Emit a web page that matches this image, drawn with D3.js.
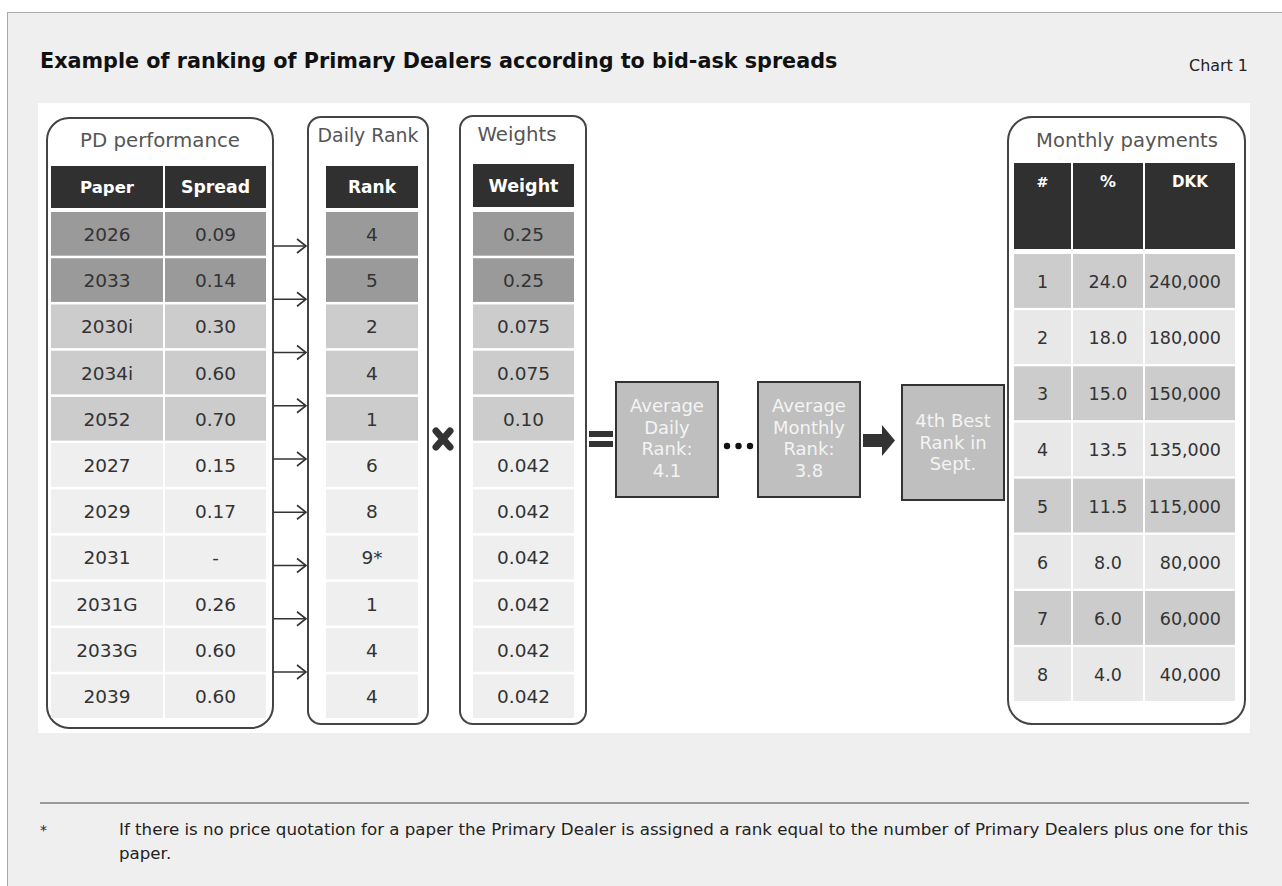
<!DOCTYPE html>
<html><head><meta charset="utf-8">
<script src="https://cdn.jsdelivr.net/npm/d3@7"></script>
<style>
html,body{margin:0;padding:0;background:#fff;}
svg{display:block;font-family:"DejaVu Sans","Noto Sans",sans-serif;}
</style></head>
<body><div id="chart"></div>
<script>
// ---- data ----
const papers = ["2026","2033","2030i","2034i","2052","2027","2029","2031","2031G","2033G","2039"];
const spreads = ["0.09","0.14","0.30","0.60","0.70","0.15","0.17","-","0.26","0.60","0.60"];
const dailyRanks = ["4","5","2","4","1","6","8","9*","1","4","4"];
const weights = ["0.25","0.25","0.075","0.075","0.10","0.042","0.042","0.042","0.042","0.042","0.042"];
const paperTier = [0,0,1,1,1,2,2,2,2,2,2];
const payRank = ["1","2","3","4","5","6","7","8"];
const payPct = ["24.0","18.0","15.0","13.5","11.5","8.0","6.0","4.0"];
const payDKK = ["240,000","180,000","150,000","135,000","115,000","80,000","60,000","40,000"];
const avgDailyRank = "4.1";
const avgMonthlyRank = "3.8";
const bestRankLabel = "4th Best";
const monthLabel = "Sept.";
const arrowCount = 9;

const W = 1282, H = 886;
const svg = d3.select("#chart").append("svg").attr("width", W).attr("height", H);

function fit(sel, w){
  const l = sel.node().getComputedTextLength();
  if (l > 0) sel.attr("font-size", (+sel.attr("font-size")) * w / l);
  return sel;
}

// frame
svg.append("rect").attr("x",7).attr("y",12).attr("width",W-7).attr("height",H-12).attr("fill","#efefef");
svg.append("line").attr("x1",7).attr("x2",W).attr("y1",12.5).attr("y2",12.5).attr("stroke","#aaa").attr("stroke-width",1);
svg.append("line").attr("x1",7.5).attr("x2",7.5).attr("y1",12).attr("y2",H).attr("stroke","#aaa").attr("stroke-width",1);

fit(svg.append("text").attr("x",40).attr("y",68).attr("font-size",20).attr("font-weight","bold").attr("fill","#111")
  .text("Example of ranking of Primary Dealers according to bid-ask spreads"), 798);
fit(svg.append("text").attr("x",1248).attr("y",71).attr("text-anchor","end").attr("font-size",14).attr("fill","#222").text("Chart 1"), 59);

// white panel
svg.append("rect").attr("x",38).attr("y",103).attr("width",1212).attr("height",630).attr("fill","#fff");

// footnote
svg.append("line").attr("x1",40).attr("x2",1249).attr("y1",803).attr("y2",803).attr("stroke","#999").attr("stroke-width",2);
svg.append("text").attr("x",40).attr("y",835).attr("font-size",14).attr("fill","#222").text("*");
const fn1 = fit(svg.append("text").attr("x",119).attr("y",835).attr("font-size",14).attr("fill","#222")
  .text("If there is no price quotation for a paper the Primary Dealer is assigned a rank equal to the number of Primary Dealers plus one for this"), 1130);
svg.append("text").attr("x",119).attr("y",859).attr("font-size",fn1.attr("font-size")).attr("fill","#222").text("paper.");

const tierColor = d3.scaleOrdinal().domain([0,1,2]).range(["#9a9a9a","#cccccc","#efefef"]);

// container boxes
function box(x,y,w,h,r){
  svg.append("rect").attr("x",x).attr("y",y).attr("width",w).attr("height",h).attr("rx",r).attr("ry",r)
    .attr("fill","#fff").attr("stroke","#444").attr("stroke-width",2);
}
box(47,118,226,610,22);
box(308,117,120,607,13);
box(460,116,126,608,13);
box(1008,117,237,607,24);

function title(x,y,t,fs,w){
  fit(svg.append("text").attr("x",x).attr("y",y).attr("text-anchor","middle").attr("font-size",fs).attr("fill","#555").text(t), w);
}
title(160,147,"PD performance",18,160);
title(368,142,"Daily Rank",17,101);
title(517,141,"Weights",17,79);
title(1127,147,"Monthly payments",18,182);

// left tables
const yRow = d3.scaleBand().domain(d3.range(papers.length)).range([212,718]).paddingInner(0.055);

function header(x,w,y,h,label,fs,tw,valign){
  svg.append("rect").attr("x",x).attr("y",y).attr("width",w).attr("height",h).attr("fill","#303030");
  fit(svg.append("text").attr("x",x+w/2).attr("y", valign==="top" ? y+24 : y+h/2+6)
    .attr("text-anchor","middle").attr("font-size",fs).attr("font-weight","bold").attr("fill","#fff").text(label), tw);
}
header(51,112,166,42,"Paper",17,54);
header(165,101,166,42,"Spread",17,69);
header(326,92,166,42,"Rank",17,48);
header(473,101,164,43,"Weight",17,70);

const cellFs = 18.5;
function column(x,w,values,colors){
  const g = svg.append("g");
  g.selectAll("rect").data(values).join("rect")
    .attr("x",x).attr("y",(d,i)=>yRow(i)).attr("width",w).attr("height",yRow.bandwidth())
    .attr("fill",(d,i)=>tierColor(colors[i]));
  g.selectAll("text").data(values).join("text")
    .attr("x",x+w/2).attr("y",(d,i)=>yRow(i)+yRow.bandwidth()/2+7)
    .attr("text-anchor","middle").attr("font-size",cellFs).attr("fill","#333").text(d=>d);
}
column(51,112,papers,paperTier);
column(165,101,spreads,paperTier);
column(326,92,dailyRanks,paperTier);
column(473,101,weights,paperTier);

// arrows between tables
const yArrow = d3.scaleLinear().domain([0,arrowCount-1]).range([246,672]);
const ag = svg.append("g").attr("stroke","#333").attr("stroke-width",1.6).attr("fill","none");
d3.range(arrowCount).forEach(i=>{
  const y = yArrow(i);
  ag.append("line").attr("x1",273).attr("x2",306).attr("y1",y).attr("y2",y);
  ag.append("path").attr("d",`M${297},${y-7}L${306},${y}L${297},${y+7}`);
});

// multiply sign
svg.append("path").attr("d","M436,431L450,447M450,431L436,447").attr("stroke","#333").attr("stroke-width",7).attr("stroke-linecap","round");

// equals sign
svg.append("rect").attr("x",589).attr("y",431).attr("width",24).attr("height",6).attr("fill","#333");
svg.append("rect").attr("x",589).attr("y",441).attr("width",24).attr("height",6).attr("fill","#333");

// process boxes
function pbox(x,y,lines,baseY){
  svg.append("rect").attr("x",x).attr("y",y).attr("width",102).attr("height",115).attr("fill","#bfbfbf").attr("stroke","#333").attr("stroke-width",2);
  const t = svg.append("text").attr("text-anchor","middle").attr("font-size",18).attr("fill","#f4f4f4");
  lines.forEach((l,i)=>t.append("tspan").attr("x",x+51).attr("y",baseY+i*21.5).text(l));
}
pbox(616,382,["Average","Daily","Rank:",avgDailyRank],412);
pbox(758,382,["Average","Monthly","Rank:",avgMonthlyRank],412);
pbox(902,385,[bestRankLabel,"Rank in",monthLabel],427);

// dots
svg.selectAll("circle.dot").data([727,738.5,750]).join("circle").attr("class","dot")
  .attr("cx",d=>d).attr("cy",446).attr("r",3.2).attr("fill","#111");

// block arrow
svg.append("path").attr("d","M863,434L882,434L882,425L895,440.5L882,456L882,447L863,447Z").attr("fill","#333");

// right table
const colsR = [[1014,57],[1073,70],[1145,90]];
header(colsR[0][0],colsR[0][1],163,86,"#",15,12,"top");
header(colsR[1][0],colsR[1][1],163,86,"%",15,16,"top");
header(colsR[2][0],colsR[2][1],163,86,"DKK",15,36,"top");

const yR = d3.scaleBand().domain(d3.range(payRank.length)).range([254,701]).paddingInner(0.04);
const rowColR = i => i%2===0 ? "#cccccc" : "#e8e8e8";
[payRank,payPct,payDKK].forEach((vals,c)=>{
  const [x,w] = colsR[c];
  const g = svg.append("g");
  g.selectAll("rect").data(vals).join("rect")
    .attr("x",x).attr("y",(d,i)=>yR(i)).attr("width",w).attr("height",yR.bandwidth())
    .attr("fill",(d,i)=>rowColR(i));
  g.selectAll("text").data(vals).join("text")
    .attr("x", c===2 ? 1221 : x+w/2)
    .attr("y",(d,i)=>yR(i)+yR.bandwidth()/2+7)
    .attr("text-anchor", c===2 ? "end" : "middle")
    .attr("font-size",17.5).attr("fill","#333").text(d=>d);
});
</script></body></html>
